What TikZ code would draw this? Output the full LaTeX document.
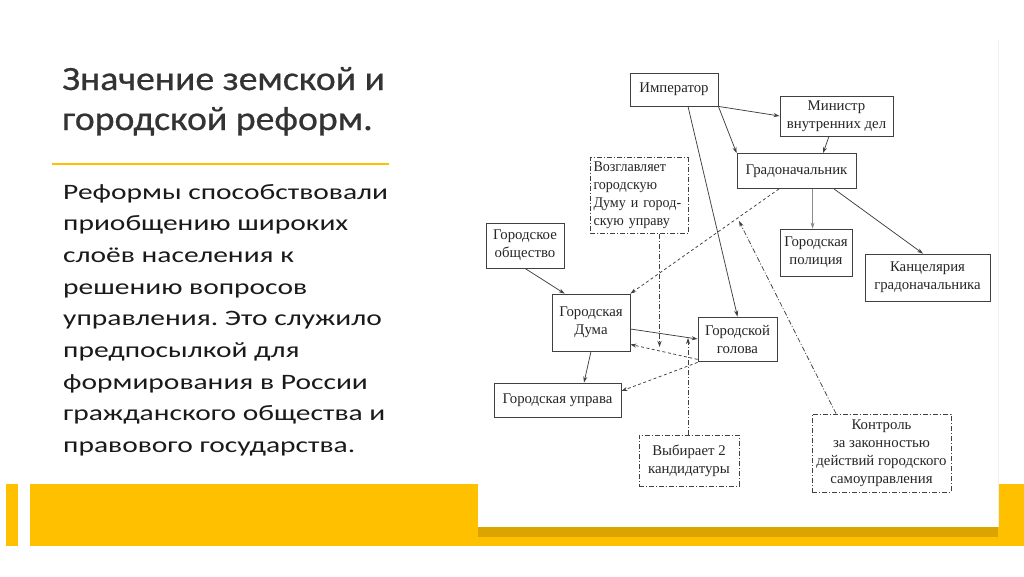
\documentclass[tikz,border=0pt]{standalone}
\usepackage{fontspec}
\setmainfont{Carlito}
\newfontfamily\dfont{Liberation Serif}
\newfontfamily\vfont[FakeStretch=0.95]{Liberation Serif}
\newfontfamily\ttlfont[FakeStretch=1.11,FakeBold=0.6]{Carlito}
\newfontfamily\bodyfont[FakeStretch=1.34]{Carlito}
\usetikzlibrary{arrows.meta,calc}
\frenchspacing
\definecolor{ylw}{HTML}{FFC000}
\definecolor{ylwd}{HTML}{DBA400}
\definecolor{lc}{HTML}{404040}
\definecolor{tc}{HTML}{262626}
\definecolor{bodyc}{HTML}{1A1A1A}
\definecolor{ttlc}{HTML}{333333}
\begin{document}
\begin{tikzpicture}[x=1pt,y=-1pt,
 box/.style={draw=lc,line width=0.8pt,fill=white,text=tc,align=center,inner sep=0pt,font=\dfont\fontsize{14.8}{18}\selectfont},
 dbox/.style={box,dash pattern=on 5pt off 2pt on 1pt off 2pt,line width=0.7pt},
 arr/.style={draw=lc,line width=0.75pt,-{Stealth[length=6pt,width=4pt]}},
 darr/.style={arr,dash pattern=on 3pt off 2.5pt},
 ddarr/.style={arr,dash pattern=on 5pt off 2pt on 1pt off 2pt},
 ttl/.style={anchor=base west,inner sep=0pt,text=ttlc,font=\ttlfont\fontsize{34}{40}\selectfont},
 bodytxt/.style={anchor=base west,inner sep=0pt,text=bodyc,font=\bodyfont\fontsize{22}{30}\selectfont},
]
\useasboundingbox (0,0) rectangle (1024,576);
\fill[white] (0,0) rectangle (1024,576);
% bottom bars
\fill[ylw] (6,484) rectangle (18,546);
\fill[ylw] (30,484) rectangle (1024,546);
\fill[white] (478,40) rectangle (998,527);
\draw[black!6,line width=0.8pt] (998,40) -- (998,527);
\fill[ylwd] (478,527) rectangle (998,537);
% title
\node[ttl] (t1) at (62,90) {Значение земской и};
\node[ttl] (t2) at (62,130) {городской реформ.};
\draw[ylw,line width=2.5pt] (52,164) -- (389,164);
% body
\foreach \t [count=\i] in {Реформы способствовали,приобщению широких,слоёв населения к,решению вопросов,управления. Это служило,предпосылкой для,формирования в России,гражданского общества и,правового государства.}
  \node[bodytxt] (b\i) at (63,{199+(\i-1)*31.7}) {\t};
% diagram boxes
\node[box,minimum width=88,minimum height=33] (imp) at (674,89.5) {Император};
\node[box,minimum width=113,minimum height=40] (min) at (836.5,116) {Министр\\внутренних дел};
\node[box,minimum width=119,minimum height=35] (grad) at (796.5,171) {Градоначальник};
\node[dbox,minimum width=98,minimum height=76,align=left,text width=91,font=\vfont\fontsize{14.8}{18}\selectfont] (voz) at (639,195.5) {Возглавляет\\городскую\\Думу и город-\\скую управу};
\node[box,minimum width=78,minimum height=45] (obsh) at (525,245.5) {Городское\\общество};
\node[box,minimum width=72,minimum height=47] (pol) at (816,252.5) {Городская\\полиция};
\node[box,minimum width=125,minimum height=47] (kanc) at (927.5,277.5) {Канцелярия\\градоначальника};
\node[box,minimum width=78,minimum height=57] (duma) at (591,322.5) {Городская\\Дума};
\node[box,minimum width=79,minimum height=44] (golova) at (737.5,339) {Городской\\голова};
\node[box,minimum width=127,minimum height=34] (uprava) at (557.5,400) {Городская управа};
\node[dbox,minimum width=100,minimum height=51] (vyb) at (689,460.5) {Выбирает 2\\кандидатуры};
\node[dbox,minimum width=139,minimum height=78] (kontr) at (881.5,453) {Контроль\\за законностью\\действий городского\\самоуправления};
\coordinate (vend) at (659.5,347);
\coordinate (yend) at (688,338);
\coordinate (kend) at (739,221);
% connectors
\draw[arr] (imp.south east) -- (min.west);
\draw[arr] (imp.south east) -- (grad.north west);
\draw[arr] ($(min.south)+(-7.5,0)$) -- ($(grad.north)+(26.5,0)$);
\draw[arr] ($(imp.south)+(14,0)$) -- (golova.north);
\draw[arr,draw=black!45] ($(grad.south)+(16,0)$) -- ($(pol.north)+(-3.4,0)$);
\draw[arr] ($(grad.south)+(37.5,0)$) -- ($(kanc.north)+(-4.5,0)$);
\draw[darr] ($(grad.south)+(-17.5,0)$) -- (duma.north east);
\draw[arr] (obsh.south) -- ($(duma.north west)+(13,0)$);
\draw[arr] ($(duma.east)+(0,6.5)$) -- (golova.west);
\draw[ddarr] ($(voz.south)+(20.5,0)$) -- (vend);
\draw[ddarr] ($(vyb.north)+(-1,0)$) -- (yend);
\draw[darr] ($(golova.south west)+(0,-2)$) -- ($(duma.south east)+(0,-7)$);
\draw[darr] ($(golova.south west)+(0,1)$) -- ($(uprava.east)+(0,-9)$);
\draw[arr] (duma.south) -- ($(uprava.north)+(26.5,0)$);
\draw[ddarr] ($(kontr.north)+(-45.5,0)$) -- (kend);
\end{tikzpicture}
\end{document}
